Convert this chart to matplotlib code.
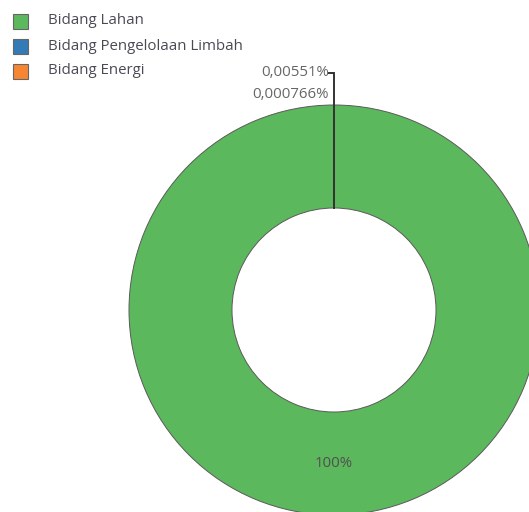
import numpy as np
import matplotlib
matplotlib.use("Agg")
import matplotlib.pyplot as plt
from matplotlib.patches import Rectangle

plt.rcParams['font.family'] = ['Open Sans', 'DejaVu Sans']

categories = ["Bidang Lahan", "Bidang Pengelolaan Limbah", "Bidang Energi"]
shares = [99.993724, 0.00551, 0.000766]
colors = ["#5cb85c", "#337ab7", "#f58733"]

W, H = 529, 512
fig = plt.figure(figsize=(W / 100, H / 100), dpi=100)
ax = fig.add_axes([0, 0, 1, 1])

cx, cy = 334, H - 310
R, r = 205, 102

wedges, _ = ax.pie(shares, colors=colors, startangle=90, counterclock=False,
                   radius=R, center=(cx, cy),
                   wedgeprops=dict(width=R - r, edgecolor="#5a5a5a", linewidth=0.7))
ax.set_xlim(0, W)
ax.set_ylim(0, H)
ax.set_aspect("equal")
ax.axis("off")


def fmt(v):
    return f"{v:.3g}".replace(".", ",") + "%"


# label of the big slice inside the ring
w0 = wedges[0]
mid = np.deg2rad((w0.theta1 + w0.theta2) / 2)
rm = (R + r) / 2
ax.text(cx + rm * np.cos(mid), cy + rm * np.sin(mid), fmt(shares[0]),
        ha="center", va="center", fontsize=10.8, color="#505050")

# leader line for the tiny slices near the top
w1 = wedges[1]
a = np.deg2rad((w1.theta1 + w1.theta2) / 2)
x0, y0 = cx + r * np.cos(a), cy + r * np.sin(a)
ytop = cy + 237
ax.plot([x0, x0, x0 - 5], [y0, ytop, ytop], color="#333333", lw=1.4,
        solid_joinstyle="miter", zorder=5)
ax.text(x0 - 5, ytop, fmt(shares[1]), ha="right", va="center",
        fontsize=10.8, color="#666666")
ax.text(x0 - 5, ytop - 22, fmt(shares[2]), ha="right", va="center",
        fontsize=10.8, color="#666666")

# legend
for i, (name, c) in enumerate(zip(categories, colors)):
    yc = H - (21 + 25 * i)
    ax.add_patch(Rectangle((13, yc - 7.5), 15, 15, facecolor=c,
                           edgecolor="#666666", linewidth=0.8))
    ax.text(48, yc, name, ha="left", va="center", fontsize=10.8, color="#4a4a55")

fig.savefig("out.png", dpi=100)
